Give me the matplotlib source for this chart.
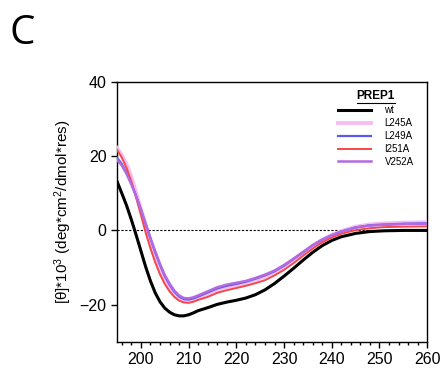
import matplotlib
matplotlib.use('Agg')
import matplotlib.pyplot as plt
from matplotlib.lines import Line2D
from matplotlib.ticker import MultipleLocator

plt.rcParams['font.family'] = ['Liberation Sans', 'DejaVu Sans']
plt.rcParams['mathtext.default'] = 'regular'

# wavelength (nm)
wl = [195, 196, 197, 198, 199, 200, 201, 202, 203, 204, 205, 206, 207, 208,
      209, 210, 211, 212, 214, 216, 218, 220, 222, 224, 226, 228, 230, 232,
      234, 236, 238, 240, 242, 245, 248, 251, 255, 260]

# mean residue ellipticity *10^3
wt = [13.2, 10.0, 6.7, 2.9, -1.2, -5.5, -9.8, -13.6, -16.8, -19.2, -20.9, -22.0,
      -22.7, -23.0, -23.0, -22.7, -22.2, -21.6, -20.8, -19.9, -19.3, -18.8,
      -18.2, -17.3, -16.0, -14.3, -12.3, -10.2, -8.0, -5.9, -4.1, -2.7, -1.7,
      -0.8, -0.3, -0.1, 0.0, 0.0]
l245a = [22.2, 20.3, 17.8, 14.4, 10.2, 5.8, 1.2, -3.0, -7.0, -10.4, -13.2, -15.4,
         -17.0, -18.2, -18.8, -19.0, -18.7, -18.2, -17.2, -16.1, -15.3, -14.8,
         -14.2, -13.4, -12.4, -11.2, -9.7, -7.9, -6.0, -4.1, -2.5, -1.2, -0.2,
         1.0, 1.6, 1.9, 2.1, 2.2]
l249a = [19.6, 17.9, 15.5, 12.6, 9.3, 5.6, 1.7, -2.2, -5.9, -9.3, -12.3, -14.6,
         -16.5, -17.8, -18.5, -18.6, -18.3, -17.8, -16.7, -15.6, -14.9, -14.4,
         -13.8, -13.0, -12.1, -11.0, -9.5, -7.7, -5.9, -4.0, -2.5, -1.3, -0.3,
         0.8, 1.4, 1.6, 1.8, 1.9]
i251a = [21.7, 19.6, 16.8, 13.2, 8.8, 4.2, -0.6, -4.8, -8.6, -11.8, -14.4, -16.4,
         -17.9, -18.9, -19.4, -19.5, -19.2, -18.7, -17.9, -16.8, -16.1, -15.5,
         -14.9, -14.2, -13.4, -12.1, -10.6, -8.8, -6.8, -4.9, -3.2, -1.9, -0.9,
         0.1, 0.6, 0.9, 1.0, 1.1]
v252a = [19.0, 17.5, 15.2, 12.4, 9.2, 5.6, 1.8, -2.0, -5.6, -9.0, -12.0, -14.3,
         -16.2, -17.5, -18.2, -18.3, -18.0, -17.5, -16.4, -15.3, -14.6, -14.1,
         -13.6, -12.8, -11.9, -10.8, -9.3, -7.6, -5.8, -4.0, -2.5, -1.3, -0.3,
         0.8, 1.3, 1.5, 1.7, 1.8]

fig = plt.figure(figsize=(4.45, 3.72), dpi=100)
ax = fig.add_axes([0.263, 0.081, 0.697, 0.699])

ax.axhline(0, color='black', lw=0.8, ls=(0, (2, 1.5)), zorder=1)
ax.plot(wl, wt, color='black', lw=2.2, label='wt', zorder=3)
ax.plot(wl, l245a, color='#f6bdf2', lw=2.8, label='L245A', zorder=4)
ax.plot(wl, l249a, color='#5a5af0', lw=1.6, label='L249A', zorder=5)
ax.plot(wl, i251a, color='#f44848', lw=1.4, label='I251A', zorder=6)
ax.plot(wl, v252a, color='#b369e0', lw=1.8, label='V252A', zorder=7)

ax.set_xlim(195, 260)
ax.set_ylim(-30, 40)
ax.xaxis.set_major_locator(MultipleLocator(10))
ax.xaxis.set_minor_locator(MultipleLocator(2))
ax.yaxis.set_major_locator(MultipleLocator(20))
ax.tick_params(axis='both', which='major', direction='out', length=4, width=1,
               labelsize=11.5, colors='black')
ax.tick_params(axis='x', which='minor', direction='out', length=2.5, width=1)
for sp in ax.spines.values():
    sp.set_linewidth(1.0)

ax.set_ylabel('[θ]*10$^3$ (deg*cm$^2$/dmol*res)', fontsize=11, labelpad=4)

leg = ax.legend(loc='upper right', bbox_to_anchor=(0.975, 0.99), frameon=False,
                fontsize=7, title='PREP1', handlelength=3.4, handletextpad=1.4,
                labelspacing=0.3, borderaxespad=0.2)
leg.get_title().set_fontweight('bold')
leg.get_title().set_fontsize(8.5)

# underline the legend title
fig.canvas.draw()
tb = leg.get_title().get_window_extent()
W, H = fig.bbox.width, fig.bbox.height
y_ul = (tb.y0 - 1) / H
fig.add_artist(Line2D([tb.x0 / W, tb.x1 / W], [y_ul, y_ul], color='black', lw=0.8))

fig.text(0.022, 0.965, 'C', fontsize=29, family=['Open Sans', 'DejaVu Sans'],
         va='top', ha='left')

fig.savefig('out.png', dpi=100)
